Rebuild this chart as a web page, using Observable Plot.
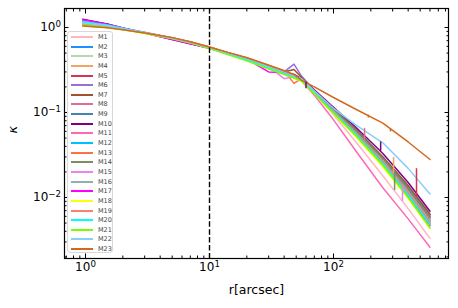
<!DOCTYPE html>
<html><head><meta charset="utf-8">
<script src="https://cdn.jsdelivr.net/npm/d3@7"></script>
<script src="https://cdn.jsdelivr.net/npm/@observablehq/plot@0.6"></script>
<style>
body{margin:0;background:#fff;}
#wrap{position:relative;width:458px;height:308px;font-family:"DejaVu Sans",sans-serif;}
#legend{position:absolute;left:67px;top:31px;width:46px;height:222px;border:1px solid #d8d8d8;border-radius:3px;background:rgba(255,255,255,0.85);box-sizing:border-box;}
.ln{position:absolute;left:3px;width:22px;height:2px;}
.lb{position:absolute;left:30px;font-size:6.5px;line-height:7px;color:#444;}
</style></head>
<body><div id="wrap"><div id="legend"></div></div>
<script>
const radii = [0.95, 1.5, 2, 3, 5, 7, 10, 14, 20, 30, 40, 48, 55, 70, 100, 150, 250, 400, 600];
const M1  = [1.10, 1.03, 0.96, 0.86, 0.75, 0.67, 0.58, 0.50, 0.43, 0.35, 0.30, 0.27, 0.24, 0.17, 0.094, 0.046, 0.018, 0.0074, 0.0033];
const M2  = [1.12, 1.04, 0.96, 0.87, 0.75, 0.67, 0.58, 0.50, 0.42, 0.345, 0.295, 0.265, 0.245, 0.175, 0.105, 0.060, 0.028, 0.0125, 0.0058];
const M3  = [1.08, 1.02, 0.95, 0.86, 0.74, 0.66, 0.575, 0.495, 0.42, 0.34, 0.29, 0.26, 0.24, 0.17, 0.10, 0.056, 0.025, 0.0110, 0.0050];
const M4  = [1.15, 1.05, 0.97, 0.87, 0.75, 0.67, 0.585, 0.505, 0.435, 0.355, 0.305, 0.275, 0.25, 0.175, 0.105, 0.060, 0.027, 0.0120, 0.0055];
const M5  = [1.18, 1.07, 0.98, 0.87, 0.74, 0.66, 0.58, 0.50, 0.43, 0.35, 0.30, 0.27, 0.25, 0.178, 0.108, 0.062, 0.029, 0.0133, 0.0062];
const M6  = [1.22, 1.09, 0.99, 0.87, 0.73, 0.65, 0.575, 0.50, 0.43, 0.35, 0.30, 0.37, 0.27, 0.182, 0.11, 0.064, 0.030, 0.0138, 0.0064];
const M7  = [1.13, 1.05, 0.97, 0.87, 0.75, 0.67, 0.58, 0.50, 0.43, 0.35, 0.30, 0.32, 0.26, 0.18, 0.11, 0.064, 0.030, 0.0137, 0.0063];
const M8  = [1.20, 1.08, 0.98, 0.87, 0.74, 0.66, 0.58, 0.50, 0.43, 0.35, 0.30, 0.27, 0.245, 0.175, 0.105, 0.060, 0.028, 0.0124, 0.0057];
const M9  = [1.10, 1.03, 0.96, 0.87, 0.75, 0.67, 0.58, 0.50, 0.43, 0.35, 0.30, 0.27, 0.25, 0.177, 0.107, 0.061, 0.028, 0.0128, 0.0059];
const M10 = [1.25, 1.10, 0.99, 0.86, 0.72, 0.645, 0.57, 0.50, 0.43, 0.35, 0.30, 0.28, 0.25, 0.185, 0.115, 0.068, 0.033, 0.0150, 0.0069];
const M11 = [1.16, 1.06, 0.98, 0.88, 0.76, 0.67, 0.58, 0.50, 0.43, 0.35, 0.30, 0.27, 0.24, 0.16, 0.082, 0.036, 0.013, 0.0056, 0.0026];
const M12 = [1.14, 1.05, 0.97, 0.87, 0.75, 0.67, 0.58, 0.50, 0.425, 0.345, 0.295, 0.265, 0.24, 0.172, 0.102, 0.058, 0.026, 0.0115, 0.0052];
const M13 = [1.06, 1.00, 0.95, 0.87, 0.76, 0.68, 0.59, 0.51, 0.44, 0.36, 0.31, 0.22, 0.25, 0.175, 0.104, 0.059, 0.027, 0.0118, 0.0054];
const M14 = [1.11, 1.04, 0.96, 0.87, 0.75, 0.67, 0.58, 0.50, 0.43, 0.35, 0.30, 0.27, 0.25, 0.178, 0.108, 0.062, 0.029, 0.0130, 0.0060];
const M15 = [1.20, 1.08, 0.98, 0.87, 0.74, 0.66, 0.575, 0.495, 0.425, 0.345, 0.25, 0.265, 0.24, 0.17, 0.10, 0.056, 0.025, 0.0108, 0.0049];
const M16 = [1.12, 1.04, 0.96, 0.87, 0.75, 0.67, 0.58, 0.50, 0.43, 0.35, 0.30, 0.27, 0.245, 0.174, 0.104, 0.059, 0.027, 0.0117, 0.0053];
const M17 = [1.23, 1.09, 0.98, 0.86, 0.72, 0.645, 0.57, 0.495, 0.425, 0.30, 0.295, 0.265, 0.24, 0.17, 0.10, 0.055, 0.025, 0.0105, 0.0047];
const M18 = [1.05, 1.00, 0.94, 0.85, 0.74, 0.66, 0.57, 0.49, 0.415, 0.335, 0.285, 0.255, 0.235, 0.166, 0.097, 0.053, 0.023, 0.0098, 0.0043];
const M19 = [1.09, 1.03, 0.96, 0.87, 0.75, 0.67, 0.585, 0.505, 0.435, 0.355, 0.305, 0.27, 0.245, 0.172, 0.102, 0.057, 0.026, 0.0112, 0.0050];
const M20 = [1.17, 1.07, 0.98, 0.87, 0.75, 0.665, 0.575, 0.49, 0.415, 0.335, 0.285, 0.26, 0.24, 0.17, 0.10, 0.056, 0.025, 0.0107, 0.0048];
const M21 = [1.07, 1.01, 0.95, 0.86, 0.74, 0.66, 0.565, 0.48, 0.405, 0.325, 0.28, 0.255, 0.235, 0.167, 0.098, 0.054, 0.024, 0.0100, 0.0044];
const M22 = [1.13, 1.05, 0.97, 0.87, 0.75, 0.67, 0.58, 0.50, 0.43, 0.35, 0.30, 0.27, 0.25, 0.18, 0.112, 0.072, 0.044, 0.022, 0.011];
const M23 = [1.04, 0.99, 0.94, 0.86, 0.76, 0.68, 0.59, 0.51, 0.44, 0.36, 0.31, 0.28, 0.24, 0.20, 0.15, 0.11, 0.075, 0.045, 0.028];

const names = ["M1","M2","M3","M4","M5","M6","M7","M8","M9","M10","M11","M12","M13","M14","M15","M16","M17","M18","M19","M20","M21","M22","M23"];
const colors = ["#ffb6c1","#1e90ff","#b8d4b0","#f4a460","#dc3050","#9370db","#a0522d","#db7093","#4682b4","#800080","#ff69b4","#00bfff","#ff7043","#7d8f5d","#ee82ee","#8fb0b0","#ff00ff","#ffff00","#fa8072","#00ffff","#7cfc00","#87cefa","#d2691e"];
const series = [M1,M2,M3,M4,M5,M6,M7,M8,M9,M10,M11,M12,M13,M14,M15,M16,M17,M18,M19,M20,M21,M22,M23];

// outlier spikes: series index, radius, low, high
const spikeIdx = [7, 9, 3, 13, 14, 4, 9, 22, 22];
const spikeR   = [178, 240, 305, 311, 360, 467, 60, 191, 288];
const spikeLo  = [0.0465, 0.035, 0.0192, 0.0121, 0.0090, 0.0101, 0.19, 0.086, 0.059];
const spikeHi  = [0.065, 0.045, 0.0296, 0.020, 0.013, 0.0218, 0.227, 0.093, 0.064];

const xMajor = [1, 10, 100];
const xMajorLabels = ["10^0", "10^1", "10^2"];
const xMinor = [0.7,0.8,0.9,2,3,4,5,6,7,8,9,20,30,40,50,60,70,80,90,200,300,400,500,600,700,800];
const yMajor = [1, 0.1, 0.01];
const yMajorLabels = ["10^0", "10^-1", "10^-2"];
const yMinor = [0.002,0.003,0.004,0.005,0.006,0.007,0.008,0.009,0.02,0.03,0.04,0.05,0.06,0.07,0.08,0.09,0.2,0.3,0.4,0.5,0.6,0.7,0.8,0.9];
const xTitle = "r[arcsec]";
const yTitle = "κ";
const xDomain = [0.677, 846];
const yDomain = [0.001915, 1.673];
const dashAt = 10;

const lineMarks = series.map((ys, i) =>
  Plot.line(radii.map((r, j) => ({r, k: ys[j]})), {x: "r", y: "k", stroke: colors[i], strokeWidth: 1.5})
);
const spikes = spikeIdx.map((s, i) => ({r: spikeR[i], lo: spikeLo[i], hi: spikeHi[i], c: colors[s]}));

const fmtX = d => xMajorLabels[xMajor.indexOf(d)];
const fmtY = d => yMajorLabels[yMajor.indexOf(d)];

const chart = Plot.plot({
  width: 458, height: 308,
  marginLeft: 64, marginRight: 10, marginTop: 8, marginBottom: 50,
  style: {fontFamily: "DejaVu Sans", fontSize: "12px", background: "white", overflow: "visible", color: "black"},
  x: {type: "log", domain: xDomain, label: null},
  y: {type: "log", domain: yDomain, label: null},
  marks: [
    ...lineMarks,
    Plot.ruleX(spikes, {x: "r", y1: "lo", y2: "hi", stroke: "c", strokeWidth: 1.5}),
    Plot.ruleX([dashAt], {stroke: "black", strokeWidth: 1.4, strokeDasharray: "5.5,2.4"}),
    Plot.frame({stroke: "black", strokeWidth: 1.2}),
    Plot.axisX(xMajor, {anchor: "bottom", tickSize: -4.5, tickPadding: 8, tickFormat: fmtX, label: null}),
    Plot.axisX(xMajor, {anchor: "top", tickSize: -4.5, tickFormat: () => "", label: null}),
    Plot.axisX(xMinor, {anchor: "bottom", tickSize: -2.5, tickFormat: () => "", label: null}),
    Plot.axisX(xMinor, {anchor: "top", tickSize: -2.5, tickFormat: () => "", label: null}),
    Plot.axisY(yMajor, {anchor: "left", tickSize: -4.5, tickPadding: 8, tickFormat: fmtY, label: null}),
    Plot.axisY(yMajor, {anchor: "right", tickSize: -4.5, tickFormat: () => "", label: null}),
    Plot.axisY(yMinor, {anchor: "left", tickSize: -2.5, tickFormat: () => "", label: null}),
    Plot.axisY(yMinor, {anchor: "right", tickSize: -2.5, tickFormat: () => "", label: null}),
    Plot.text([xTitle], {frameAnchor: "bottom", dy: 35, fontSize: 12.5, text: d => d}),
    Plot.text([yTitle], {frameAnchor: "left", dx: -52, rotate: -90, fontSize: 13, fontStyle: "italic", text: d => d})
  ]
});

d3.select(chart).selectAll("text").each(function() {
  const t = this.textContent;
  if (!t.includes("^")) return;
  const [b, e] = t.split("^");
  const sel = d3.select(this);
  sel.text(null);
  sel.append("tspan").text(b);
  sel.append("tspan").attr("dy", "-0.45em").attr("font-size", "0.72em").text(e.replace("-", "\u2212"));
});

const wrap = document.getElementById("wrap");
wrap.insertBefore(chart, wrap.firstChild);

const legend = document.getElementById("legend");
names.forEach((n, i) => {
  const y = Math.round(5 + i * 9.64);
  const ln = document.createElement("div");
  ln.className = "ln"; ln.style.top = (y - 1) + "px"; ln.style.background = colors[i];
  const lb = document.createElement("div");
  lb.className = "lb"; lb.style.top = (y - 3.5) + "px"; lb.textContent = n;
  legend.appendChild(ln); legend.appendChild(lb);
});
</script>
</body></html>
